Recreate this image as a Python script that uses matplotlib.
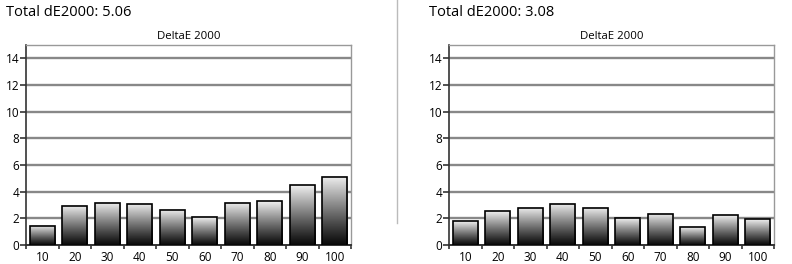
import numpy as np
import matplotlib
matplotlib.use("Agg")
import matplotlib.pyplot as plt
from matplotlib.patches import Rectangle
from matplotlib.lines import Line2D

plt.rcParams['font.family'] = ['Open Sans', 'DejaVu Sans']

categories = ["10", "20", "30", "40", "50", "60", "70", "80", "90", "100"]
left_vals = [1.45, 2.95, 3.17, 3.1, 2.63, 2.1, 3.17, 3.27, 4.5, 5.12]
right_vals = [1.8, 2.55, 2.78, 3.1, 2.78, 2.0, 2.33, 1.33, 2.25, 1.95]
left_title = "Total dE2000: 5.06"
right_title = "Total dE2000: 3.08"
chart_title = "DeltaE 2000"
yticks = [0, 2, 4, 6, 8, 10, 12, 14]

W, H = 792, 264
fig = plt.figure(figsize=(W / 100, H / 100), dpi=100)

# vertical gradient, dark at bottom, light at top
grad = np.linspace(0, 1, 200) ** 1.1
grad = 0.04 + 0.9 * grad
grad = grad.reshape(-1, 1)


def panel(left_px, vals, head):
    ax = fig.add_axes([left_px / W, 19 / H, 325 / W, 200 / H])
    n = len(vals)
    for gy in yticks[1:]:
        ax.axhline(gy, color="#888888", lw=1.7, zorder=1)
    w = 0.78
    for i, v in enumerate(vals):
        ax.imshow(grad, extent=[i - w / 2, i + w / 2, 0, v], origin="lower",
                  aspect="auto", cmap="gray", vmin=0, vmax=1, zorder=2,
                  interpolation="bilinear")
        ax.add_patch(Rectangle((i - w / 2, 0), w, v, fill=False,
                               edgecolor="black", lw=1.2, zorder=3))
    ax.set_xlim(-0.5, n - 0.5)
    ax.set_ylim(0, 15)
    ax.set_yticks(yticks)
    ax.set_yticklabels([str(t) for t in yticks], fontsize=8.5)
    ax.set_xticks(range(n))
    ax.set_xticklabels(categories, fontsize=8.5)
    ax.set_xticks(np.arange(-0.5, n, 1), minor=True)
    ax.tick_params(axis="x", which="major", length=0, pad=4)
    ax.tick_params(axis="x", which="minor", length=3, width=1.2, color="#333333")
    ax.tick_params(axis="y", length=4, width=1.2, color="#333333", pad=1)
    for s in ax.spines.values():
        s.set_color("#999999")
        s.set_linewidth(1.0)
    ax.spines["bottom"].set_color("#333333")
    ax.spines["bottom"].set_linewidth(1.4)
    ax.spines["left"].set_color("#333333")
    ax.spines["left"].set_linewidth(1.2)
    ax.set_title(chart_title, fontsize=8.2, pad=4)
    fig.text((left_px - 20) / W, 1 - 13 / H, head, fontsize=10.5, va="center", ha="left")
    return ax


panel(26, left_vals, left_title)
panel(449, right_vals, right_title)

fig.add_artist(Line2D([397 / W, 397 / W], [1 - 223 / H, 1.0], color="#bbbbbb", lw=1))

fig.savefig("out.png", dpi=100)
